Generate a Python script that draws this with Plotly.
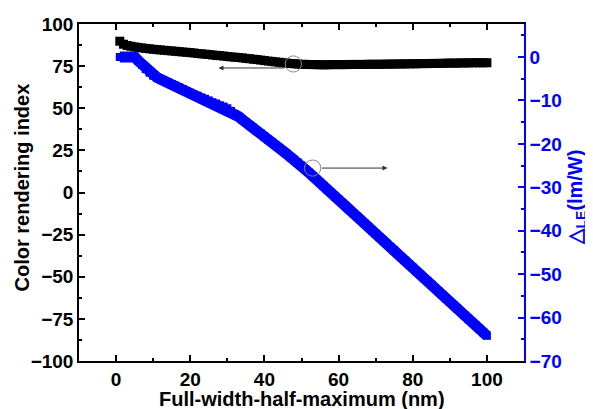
import plotly.graph_objects as go

# ---- data ----
fwhm = list(range(1, 101))

cri = [89.8, 88.0, 87.2, 86.8, 86.4, 86.1, 85.8, 85.5, 85.3, 85.0,
       84.8, 84.6, 84.4, 84.2, 84.0, 83.8, 83.6, 83.4, 83.2, 83.0,
       82.8, 82.5, 82.3, 82.1, 81.9, 81.6, 81.4, 81.2, 81.0, 80.7,
       80.5, 80.3, 80.1, 79.9, 79.6, 79.4, 79.1, 78.9, 78.6, 78.3,
       78.0, 77.8, 77.5, 77.3, 77.0, 76.8, 76.6, 76.4, 76.2, 76.1,
       76.0, 76.0, 75.9, 75.9, 75.8, 75.8, 75.8, 75.9, 75.9, 75.9,
       75.9, 75.9, 76.0, 76.0, 76.0, 76.0, 76.0, 76.1, 76.1, 76.1,
       76.1, 76.1, 76.2, 76.2, 76.2, 76.3, 76.3, 76.3, 76.4, 76.4,
       76.4, 76.5, 76.5, 76.5, 76.6, 76.6, 76.6, 76.7, 76.7, 76.8,
       76.8, 76.8, 76.9, 76.9, 76.9, 77.0, 77.0, 77.0, 77.0, 77.0]

delta_le = [0.0, 0.0, 0.0, 0.0, 0.0, -0.9, -1.8, -2.8, -3.6, -4.3,
            -4.7, -5.1, -5.5, -5.9, -6.3, -6.6, -7.0, -7.4, -7.8, -8.2,
            -8.6, -8.9, -9.3, -9.6, -10.0, -10.4, -10.7, -11.1, -11.4, -11.8,
            -12.4, -13.1, -13.7, -14.4, -15.0, -15.7, -16.3, -17.0, -17.6, -18.3,
            -19.0, -19.6, -20.3, -20.9, -21.6, -22.3, -23.0, -23.6, -24.3, -25.0,
            -25.8, -26.6, -27.4, -28.1, -28.9, -29.7, -30.5, -31.3, -32.1, -32.8,
            -33.6, -34.4, -35.2, -36.0, -36.8, -37.5, -38.3, -39.1, -39.9, -40.7,
            -41.5, -42.2, -43.0, -43.8, -44.6, -45.4, -46.2, -46.9, -47.7, -48.5,
            -49.3, -50.1, -50.9, -51.6, -52.4, -53.2, -54.0, -54.8, -55.6, -56.4,
            -57.1, -57.9, -58.7, -59.5, -60.3, -61.0, -61.8, -62.6, -63.4, -64.2]

x_ticks = [0, 20, 40, 60, 80, 100]
y_ticks = [-100, -75, -50, -25, 0, 25, 50, 75, 100]
y2_ticks = [-70, -60, -50, -40, -30, -20, -10, 0]

x_title = "Full-width-half-maximum (nm)"
y_title = "Color rendering index"
y2_title = "△<sub>LE</sub>(lm/W)"

FONT = "Liberation Sans, Arial, sans-serif"
BLUE = "#0000ff"

fig = go.Figure()
fig.add_trace(go.Scatter(
    x=fwhm, y=cri, mode="lines+markers", name="CRI",
    line=dict(color="black", width=7),
    marker=dict(symbol="square", size=9, color="black"),
    yaxis="y"))
fig.add_trace(go.Scatter(
    x=fwhm, y=delta_le, mode="lines+markers", name="dLE",
    line=dict(color=BLUE, width=11),
    marker=dict(symbol="square", size=8, color=BLUE),
    yaxis="y2"))

# circles marking the series
for cx, cy in [(47.8, 76.3), (53.0, 14.5)]:
    fig.add_shape(type="circle", xref="x", yref="y",
                  x0=cx - 2.2, x1=cx + 2.2, y0=cy - 4.8, y1=cy + 4.8,
                  line=dict(color="#888888", width=1))

# arrows
fig.add_annotation(x=27.6, y=73.9, ax=45.7, ay=73.9, xref="x", yref="y",
                   axref="x", ayref="y", text="", showarrow=True,
                   arrowhead=2, arrowsize=1, arrowwidth=1, arrowcolor="#333333")
fig.add_annotation(x=73.2, y=14.5, ax=55.1, ay=14.5, xref="x", yref="y",
                   axref="x", ayref="y", text="", showarrow=True,
                   arrowhead=2, arrowsize=1, arrowwidth=1, arrowcolor="#333333")

# axis titles
fig.add_annotation(text=x_title, xref="paper", yref="paper", x=0.501, y=-0.113,
                   showarrow=False, xanchor="center", yanchor="middle",
                   font=dict(size=20, weight="bold", family=FONT, color="black"))
fig.add_annotation(text=y_title, xref="paper", yref="paper", x=-0.128, y=0.515,
                   showarrow=False, xanchor="center", yanchor="middle", textangle=-90,
                   font=dict(size=20, weight="bold", family=FONT, color="black"))
fig.add_annotation(text=y2_title, xref="paper", yref="paper", x=1.117, y=0.485,
                   showarrow=False, xanchor="center", yanchor="middle", textangle=-90,
                   font=dict(size=20, weight="bold", family=FONT, color=BLUE))

# page body has an 8px margin, so the figure is 8px smaller than the window
fig.update_layout(
    width=585, height=401,
    margin=dict(l=71, r=69, t=16, b=48, autoexpand=False),
    paper_bgcolor="white", plot_bgcolor="white",
    showlegend=False,
    font=dict(family=FONT, color="black"),
    xaxis=dict(
        range=[-10, 110], tickvals=x_ticks, ticks="inside", ticklen=6,
        tickwidth=1.5, tickcolor="black", automargin=False,
        minor=dict(ticks="inside", ticklen=3, dtick=10, tick0=0, tickcolor="black"),
        showline=True, linecolor="black", linewidth=1.5, mirror="ticks",
        showgrid=False, zeroline=False,
        tickfont=dict(size=19, weight="bold", family=FONT)),
    yaxis=dict(
        range=[-100, 100], tickvals=y_ticks, ticks="inside", ticklen=6,
        tickwidth=1.5, tickcolor="black", automargin=False,
        minor=dict(ticks="inside", ticklen=3, dtick=12.5, tick0=0, tickcolor="black"),
        showline=True, linecolor="black", linewidth=1.5,
        showgrid=False, zeroline=False,
        tickfont=dict(size=19, weight="bold", family=FONT)),
    yaxis2=dict(
        overlaying="y", side="right", anchor="x", automargin=False,
        range=[-70, 7.6], tickvals=y2_ticks, ticks="inside", ticklen=6,
        tickwidth=1.5, tickcolor=BLUE,
        minor=dict(ticks="inside", ticklen=3, dtick=5, tick0=0, tickcolor=BLUE),
        showline=True, linecolor=BLUE, linewidth=1.5,
        showgrid=False, zeroline=False,
        tickfont=dict(size=19, weight="bold", family=FONT, color=BLUE)),
)

fig.write_html("out.html")
